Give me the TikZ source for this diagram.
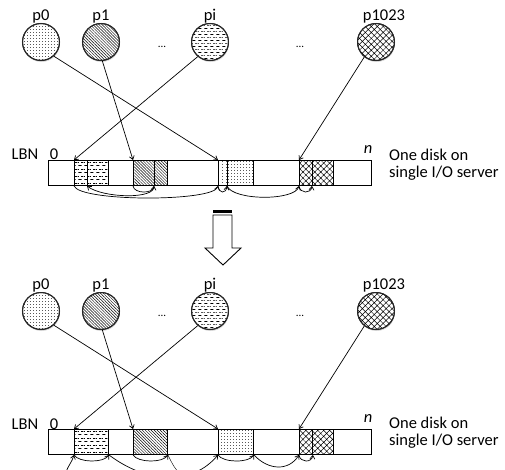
\documentclass[tikz,border=0pt]{standalone}
\usepackage{fontspec}
\setmainfont{Carlito}
\usetikzlibrary{patterns.meta,shadows,arrows.meta}

% sparse dot fill
\tikzdeclarepattern{
  name=sparse dots, type=uncolored,
  bounding box={(0pt,0pt) and (3.4pt,3.4pt)},
  tile size={(3.4pt,3.4pt)},
  code={\fill (1.7pt,1.7pt) circle[radius=0.45pt];}
}
% staggered horizontal dashes
\tikzdeclarepattern{
  name=hdashes, type=uncolored,
  bounding box={(0pt,0pt) and (6pt,6.4pt)},
  tile size={(6pt,6.4pt)},
  code={\draw[line width=0.65pt] (0.5pt,1.6pt) -- (3.9pt,1.6pt);
        \draw[line width=0.65pt] (3.5pt,4.8pt) -- (6pt,4.8pt);
        \draw[line width=0.65pt] (0pt,4.8pt) -- (0.9pt,4.8pt);}
}

\tikzset{
  fdots/.style={pattern=sparse dots},
  fdiag/.style={pattern={Lines[angle=-45,distance=2.1pt,line width=0.45pt]}},
  fdash/.style={pattern=hdashes},
  fcross/.style={pattern={Hatch[angle=45,distance=4.2pt,line width=0.5pt]}},
  proc/.style={circle, minimum size=37pt, inner sep=0pt, fill=white,
    draw=black!85, line width=1pt,
    drop shadow={shadow xshift=0.5pt, shadow yshift=-1.5pt, opacity=0.3},
    postaction={#1, draw=black!85, line width=1pt}},
  blk/.style={rectangle, inner sep=0pt, minimum height=25pt, anchor=north west,
    fill=white, draw, line width=0.9pt,
    drop shadow={shadow xshift=1pt, shadow yshift=-1pt, opacity=0.25},
    postaction={#1, draw, line width=0.9pt}},
  bar/.style={rectangle, draw, line width=0.9pt, inner sep=0pt,
    minimum width=323pt, minimum height=25pt, anchor=north west},
  lab/.style={font=\fontsize{16.5}{19}\selectfont, inner sep=0pt, anchor=base},
  dots/.style={font=\fontsize{11}{13}\selectfont, inner sep=0pt, anchor=base},
  note/.style={font=\fontsize{16.5}{17}\selectfont, inner sep=0pt, anchor=base west,
    align=left},
  arr/.style={-{Straight Barb[length=3.5pt,width=5pt]}, line width=0.7pt},
}

\begin{document}
\begin{tikzpicture}[x=1pt,y=-1pt]
\useasboundingbox (0,0) rectangle (505,469);

% ---------- before: interleaved layout ----------
\node[proc=fdots]  (t0) at (41,42)  {};
\node[proc=fdiag]  (t1) at (101,42) {};
\node[proc=fdash]  (ti) at (210,42) {};
\node[proc=fcross] (tn) at (376,42) {};
\node[lab] (t0l) at (41,20)  {p0};
\node[lab] (t1l) at (101,20) {p1};
\node[lab] (til) at (210,20) {pi};
\node[lab] (tnl) at (384,20) {p1023};
\node[dots] (td1) at (162,47) {...};
\node[dots] (td2) at (300,47) {...};

\node[bar] (tbar) at (48,160) {};
\node[lab] (tlbn) at (25,159) {LBN};
\node[lab] (tz) at (54,159) {0};
\node[lab, font=\fontsize{16.5}{19}\selectfont\itshape] (tn0) at (368,153) {n};
\node[note] (tnote) at (389,177) {One disk on\\single I/O server};

\node[blk=fdash,  minimum width=13pt] (ua1) at (74,160)  {};
\node[blk=fdash,  minimum width=21pt] (ua2) at (87,160)  {};
\node[blk=fdiag,  minimum width=21pt] (ub1) at (133,160) {};
\node[blk=fdiag,  minimum width=13pt] (ub2) at (154,160) {};
\node[blk=fdots,  minimum width=9pt]  (uc1) at (218,160) {};
\node[blk=fdots,  minimum width=26pt] (uc2) at (227,160) {};
\node[blk=fcross, minimum width=13pt] (ud1) at (299,160) {};
\node[blk=fcross, minimum width=21pt] (ud2) at (312,160) {};

\draw[arr] (t0.-48)  -- (uc1.north west);
\draw[arr] (t1.-86)  -- (ub1.north west);
\draw[arr] (ti.-130) -- (ua1.north west);
\draw[arr] (tn.-128) -- (ud1.north west);

\draw[arr] (ub1.south west) .. controls +(1,8) and +(-1,8) .. (ub2.south west);
\draw[arr] (ub2.south west) .. controls +(2,14) and +(15,12) .. (ua2.south west);
\draw[arr] (ua1.south west) .. controls +(6,16) and +(-4,16) .. (uc1.south west);
\draw[arr] (uc1.south west) .. controls +(1,8) and +(-1,8) .. (uc2.south west);
\draw[arr] (uc2.south west) .. controls +(6,15) and +(-4,15) .. (ud1.south west);
\draw[arr] (ud1.south west) .. controls +(1,8) and +(-1,8) .. (ud2.south west);

% ---------- transition ----------
\fill (213,210.3) rectangle (232,212.8);
\draw[line width=0.9pt, fill=white] (213,215) -- (232,215) -- (232,248) -- (241,248)
  -- (223,265) -- (205,248) -- (213,248) -- cycle;

% ---------- after: contiguous layout ----------
\node[proc=fdots]  (b0) at (41,311)  {};
\node[proc=fdiag]  (b1) at (101,311) {};
\node[proc=fdash]  (bi) at (210,311) {};
\node[proc=fcross] (bn) at (376,311) {};
\node[lab] (b0l) at (41,289)  {p0};
\node[lab] (b1l) at (101,289) {p1};
\node[lab] (bil) at (210,289) {pi};
\node[lab] (bnl) at (384,289) {p1023};
\node[dots] (bd1) at (162,316) {...};
\node[dots] (bd2) at (300,316) {...};

\node[bar] (bbar) at (48,429) {};
\node[lab] (blbn) at (25,429) {LBN};
\node[lab] (bz) at (54,429) {0};
\node[lab, font=\fontsize{16.5}{19}\selectfont\itshape] (bn0) at (368,422) {n};
\node[note] (bnote) at (389,445) {One disk on\\single I/O server};

\node[blk=fdash,  minimum width=34pt] (la)  at (74,429)  {};
\node[blk=fdiag,  minimum width=34pt] (lb)  at (133,429) {};
\node[blk=fdots,  minimum width=35pt] (lc)  at (218,429) {};
\node[blk=fcross, minimum width=13pt] (ld1) at (299,429) {};
\node[blk=fcross, minimum width=21pt] (ld2) at (312,429) {};

\draw[arr] (b0.-48)  -- (lc.north west);
\draw[arr] (b1.-86)  -- (lb.north west);
\draw[arr] (bi.-130) -- (la.north west);
\draw[arr] (bn.-128) -- (ld1.north west);

\coordinate (lin) at (66,472);
\coordinate (lout) at (182,474);
\draw[arr] (lin) .. controls (68,466) and (72,462) .. (la.south west);
\draw[arr] (la.south west) .. controls +(5,8) and +(-5,8) .. (la.south east);
\draw[arr] (la.south east) .. controls +(40,30) and +(-25,30) .. (lc.south west);
\draw[arr] (lb.south west) .. controls +(5,8) and +(-5,8) .. (lb.south east);
\draw (lb.south east) .. controls +(4,8) and +(-6,-2) .. (lout);
\draw[arr] (lc.south west) .. controls +(5,8) and +(-5,8) .. (lc.south east);
\draw[arr] (lc.south east) .. controls +(15,16) and +(-10,16) .. (ld1.south west);
\draw[arr] (ld1.south west) .. controls +(1,8) and +(-1,8) .. (ld1.south east);
\end{tikzpicture}
\end{document}
